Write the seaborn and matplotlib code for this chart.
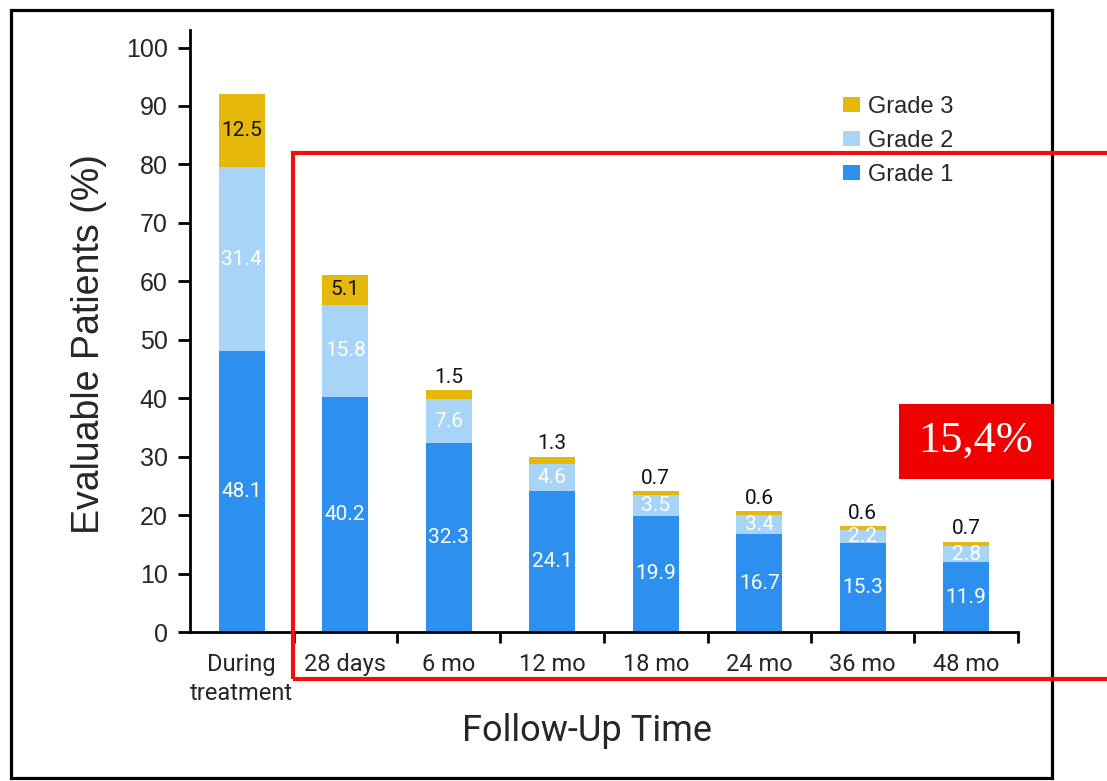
import matplotlib
matplotlib.use("Agg")
import matplotlib.pyplot as plt
import numpy as np
import seaborn as sns
from matplotlib.patches import Rectangle

categories = ["During\ntreatment", "28 days", "6 mo", "12 mo",
              "18 mo", "24 mo", "36 mo", "48 mo"]
grade1 = [48.1, 40.2, 32.3, 24.1, 19.9, 16.7, 15.3, 11.9]
grade2 = [31.4, 15.8, 7.6, 4.6, 3.5, 3.4, 2.2, 2.8]
grade3 = [12.5, 5.1, 1.5, 1.3, 0.7, 0.6, 0.6, 0.7]
highlight = "15,4%"

C1, C2, C3 = "#2E90EE", "#A8D4F7", "#E6B80C"
COND = ["Roboto", "DejaVu Sans"]
HELV = ["Liberation Sans", "DejaVu Sans"]

sns.set_style("white")
plt.rcParams["font.family"] = HELV

g1 = np.array(grade1)
g12 = g1 + np.array(grade2)
tot = g12 + np.array(grade3)

fig = plt.figure(figsize=(11.07, 7.81), dpi=100)
ax = fig.add_axes([190 / 1107, 1 - 632 / 781, 828 / 1107, 602 / 781])

# stacked bars: draw cumulative totals back to front
bar_kw = dict(width=0.44, saturation=1, linewidth=0, edgecolor="none", ax=ax)
sns.barplot(x=categories, y=tot, color=C3, label="Grade 3", **bar_kw)
sns.barplot(x=categories, y=g12, color=C2, label="Grade 2", **bar_kw)
sns.barplot(x=categories, y=g1, color=C1, label="Grade 1", **bar_kw)

for i in range(len(categories)):
    ax.text(i, grade1[i] / 2, f"{grade1[i]:.1f}", color="white",
            ha="center", va="center", fontsize=15, family=COND)
    ax.text(i, g1[i] + grade2[i] / 2, f"{grade2[i]:.1f}", color="white",
            ha="center", va="center", fontsize=15, family=COND)
    if grade3[i] >= 5:
        ax.text(i, g12[i] + grade3[i] / 2, f"{grade3[i]:.1f}", color="#111111",
                ha="center", va="center", fontsize=15, family=COND)
    else:
        ax.text(i, tot[i] + 0.6, f"{grade3[i]:.1f}", color="#111111",
                ha="center", va="bottom", fontsize=15, family=COND)

ax.set_xlim(-0.5, len(categories) - 0.5)
ax.set_ylim(0, 103)
ax.set_yticks(np.arange(0, 101, 10))
ax.set_xticks(np.arange(0.5, len(categories), 1), minor=True)
ax.tick_params(axis="y", length=9, width=2, pad=7, labelsize=18,
               color="black", left=True)
ax.tick_params(axis="x", which="major", length=0, pad=15, labelsize=17)
ax.tick_params(axis="x", which="minor", length=8, width=2, color="black",
               bottom=True, direction="out")
for lab in ax.get_xticklabels():
    lab.set_family(COND)
    lab.set_linespacing(1.35)
for s in ["top", "right"]:
    ax.spines[s].set_visible(False)
for s in ["left", "bottom"]:
    ax.spines[s].set_linewidth(2)
    ax.spines[s].set_color("black")

ax.set_xlabel("Follow-Up Time", fontsize=26, family=COND)
ax.xaxis.set_label_coords(0.479, -0.135)
ax.set_ylabel("Evaluable Patients (%)", fontsize=27)
ax.yaxis.set_label_coords(-0.1, 0.479)

ax.legend(loc="upper left", bbox_to_anchor=(843 / 1107, 1 - 96 / 781),
          bbox_transform=fig.transFigure, frameon=False, fontsize=17,
          handlelength=0.7, handleheight=0.6, handletextpad=0.35,
          labelspacing=0.5, borderpad=0, borderaxespad=0)

# outer frame
fig.patches.append(Rectangle((11 / 1107, 3 / 781), 1041 / 1107, 768 / 781,
                             transform=fig.transFigure, fill=False,
                             edgecolor="black", linewidth=2.3))
# red highlight box
fig.patches.append(Rectangle((293 / 1107, 1 - 679 / 781), 1.0, 526 / 781,
                             transform=fig.transFigure, fill=False,
                             edgecolor="#F01010", linewidth=3, clip_on=False))
fig.patches.append(Rectangle((899 / 1107, 1 - 479 / 781), 155 / 1107, 75 / 781,
                             transform=fig.transFigure, facecolor="#F00000",
                             edgecolor="none"))
fig.text(976 / 1107, 1 - 441 / 781, highlight, color="white", fontsize=32,
         family=["Liberation Serif", "DejaVu Serif"], ha="center", va="center")

fig.savefig("out.png", dpi=100)
